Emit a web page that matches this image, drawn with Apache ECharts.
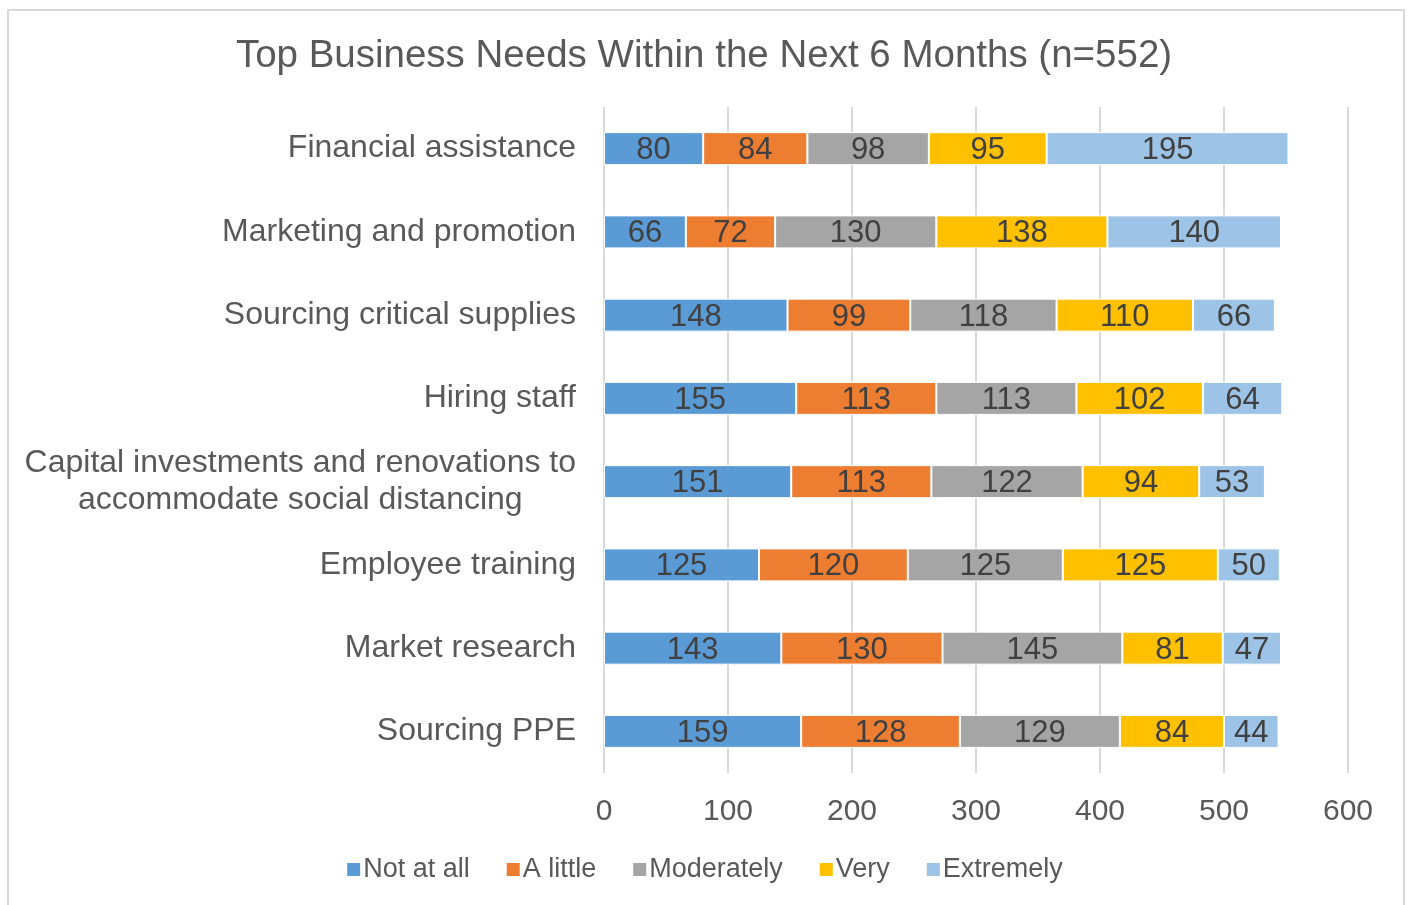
<!DOCTYPE html>
<html>
<head>
<meta charset="utf-8">
<script src="https://cdn.jsdelivr.net/npm/echarts@6/dist/echarts.min.js"></script>
<style>
  html, body { margin: 0; padding: 0; background: #fff; }
  #echart { width: 1408px; height: 905px; }
</style>
</head>
<body>
<div id="echart"></div>
<script>
// data
var categories = [
  'Financial assistance',
  'Marketing and promotion',
  'Sourcing critical supplies',
  'Hiring staff',
  'Capital investments and renovations to\naccommodate social distancing',
  'Employee training',
  'Market research',
  'Sourcing PPE'
];
var seriesNames = ['Not at all', 'A little', 'Moderately', 'Very', 'Extremely'];
var notAtAll   = [80, 66, 148, 155, 151, 125, 143, 159];
var aLittle    = [84, 72, 99, 113, 113, 120, 130, 128];
var moderately = [98, 130, 118, 113, 122, 125, 145, 129];
var very       = [95, 138, 110, 102, 94, 125, 81, 84];
var extremely  = [195, 140, 66, 64, 53, 50, 47, 44];
var xTicks = [0, 100, 200, 300, 400, 500, 600];

var colors = ['#5B9BD5', '#ED7D31', '#A5A5A5', '#FFC000', '#9DC3E6'];
var font = "'Liberation Sans', Arial, sans-serif";

var allData = [notAtAll, aLittle, moderately, very, extremely];
var series = [];
for (var i = 0; i < seriesNames.length; i++) {
  series.push({
    name: seriesNames[i],
    type: 'bar',
    stack: 'total',
    barWidth: 33,
    itemStyle: { color: colors[i], borderColor: '#fff', borderWidth: 1 },
    label: {
      show: true,
      position: 'inside',
      offset: [0, 2],
      color: '#404040',
      fontSize: 31,
      fontFamily: font
    },
    data: allData[i]
  });
}

var myChart = echarts.init(document.getElementById('echart'));
myChart.setOption({
  animation: false,
  color: colors,
  title: {
    text: 'Top Business Needs Within the Next 6 Months (n=552)',
    left: 'center',
    top: 32,
    textStyle: { color: '#595959', fontSize: 38.5, fontWeight: 'normal', fontFamily: font }
  },
  legend: {
    data: seriesNames,
    bottom: 17,
    left: 'center',
    itemWidth: 15,
    itemHeight: 15,
    itemGap: 35,
    icon: 'rect',
    textStyle: { color: '#595959', fontSize: 27, fontFamily: font, padding: [0, 0, 0, -3] }
  },
  grid: { left: 604, right: 60, top: 107, bottom: 132, containLabel: false },
  xAxis: {
    type: 'value',
    min: xTicks[0],
    max: xTicks[xTicks.length - 1],
    interval: 100,
    axisLine: { show: false },
    axisTick: { show: false },
    splitLine: { show: true, lineStyle: { color: '#d9d9d9', width: 2 } },
    axisLabel: { color: '#595959', fontSize: 30, fontFamily: font, margin: 24 }
  },
  yAxis: {
    type: 'category',
    inverse: true,
    data: categories,
    axisLine: { show: false },
    axisTick: { show: false },
    axisLabel: {
      margin: 28,
      formatter: function (v) { return '{c|' + v.split('\n').join('}\n{c|') + '}'; },
      rich: {
        c: { align: 'center', color: '#595959', fontSize: 32, fontFamily: font, lineHeight: 37 }
      }
    }
  },
  graphic: [{
    type: 'rect',
    shape: { x: 8, y: 10, width: 1396, height: 910 },
    style: { fill: 'none', stroke: '#d9d9d9', lineWidth: 2 },
    silent: true
  }],
  series: series
});
</script>
</body>
</html>
